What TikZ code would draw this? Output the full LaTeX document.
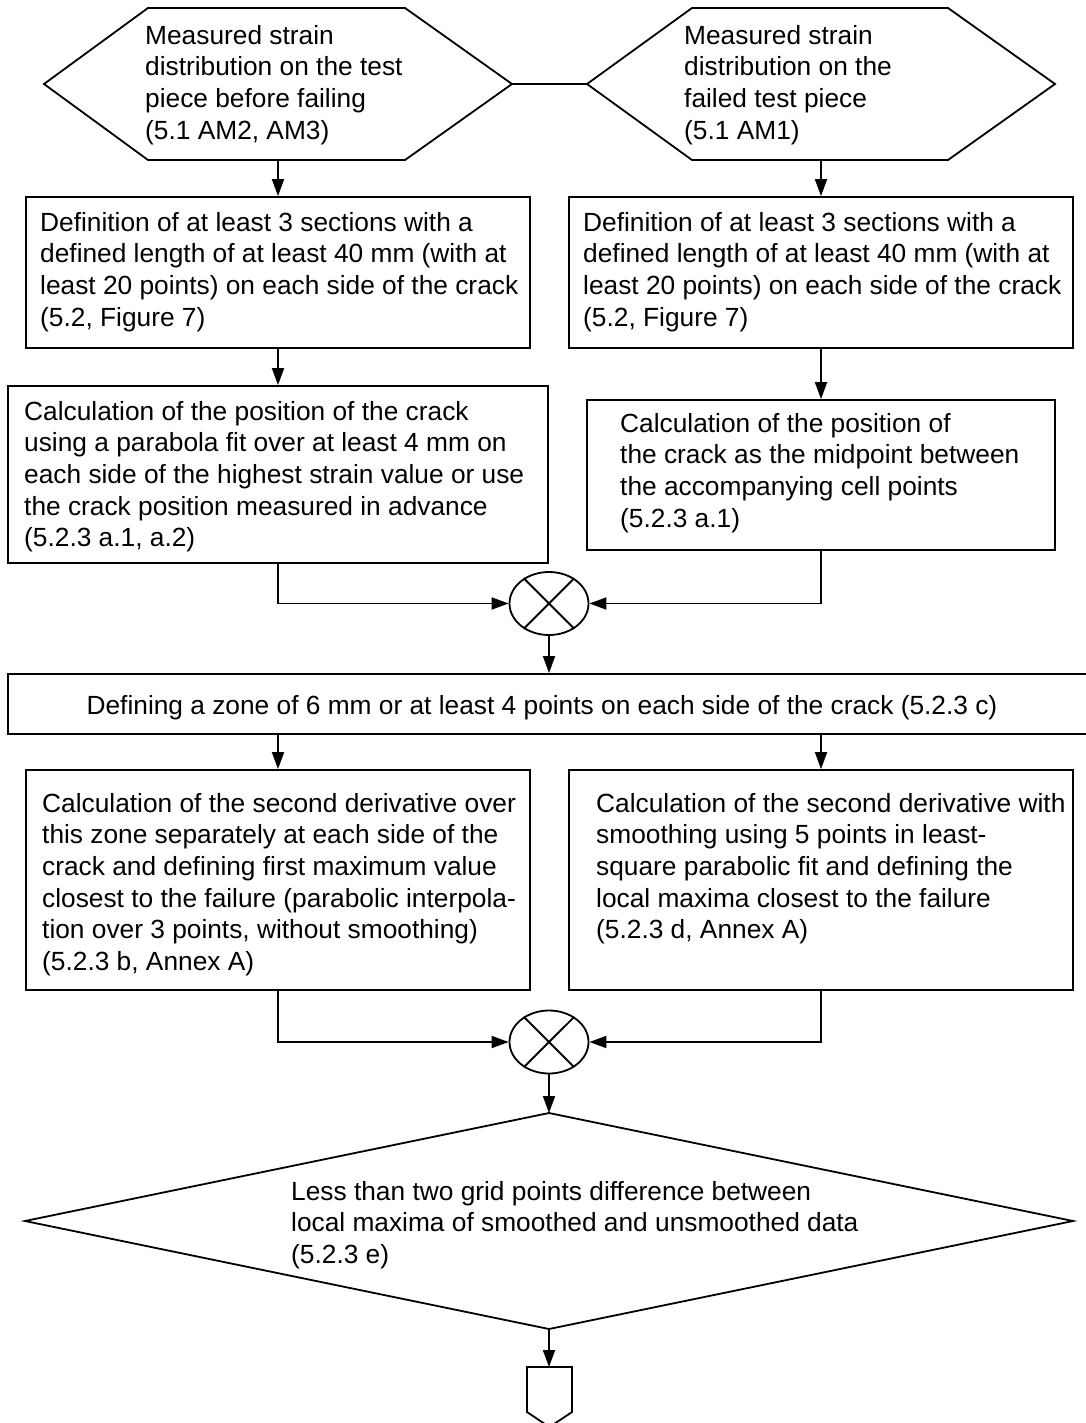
\documentclass[tikz,border=0pt]{standalone}
\usepackage{fontspec}
\setmainfont{Liberation Sans}
\usetikzlibrary{arrows.meta,shapes.geometric}
\newcommand\fsz{\fontsize{26.3}{31.6}\selectfont}
\tikzset{
  ln/.style={line width=1.8pt},
  box/.style={draw, ln, rectangle, inner sep=0pt},
  sumj/.style={draw, ln, ellipse, inner sep=0pt, minimum width=79pt, minimum height=63pt},
  txt/.style={anchor=north west, inner sep=0pt, align=left, font=\fsz},
  arr/.style={ln, -{Triangle[length=17pt,width=12pt]}},
}
\begin{document}
\begin{tikzpicture}[x=1pt,y=-1pt]
\useasboundingbox (0,0) rectangle (1085,1423);
% hexagons
\coordinate (h1l) at (44,84); \coordinate (h1r) at (512,84);
\coordinate (h1b) at (278,160);
\draw[ln] (h1l) -- (148,8) -- (405,8) -- (h1r) -- (405,160) -- (148,160) -- cycle;
\coordinate (h2l) at (587,84); \coordinate (h2r) at (1055,84);
\coordinate (h2b) at (821,160);
\draw[ln] (h2l) -- (692,8) -- (948,8) -- (h2r) -- (948,160) -- (692,160) -- cycle;
\draw[ln] (h1r) -- (h2l);
\node[txt] (th1) at (145,22) {\strut Measured strain\\distribution on the test\\piece before failing\\(5.1 AM2, AM3)};
\node[txt] (th2) at (684,22) {\strut Measured strain\\distribution on the\\failed test piece\\(5.1 AM1)};
% boxes row 1
\node[box, minimum width=504pt, minimum height=151pt] (a1) at (278,272.5) {};
\node[box, minimum width=504pt, minimum height=151pt] (b1) at (821,272.5) {};
\node[txt] (ta1) at (40,209) {\strut Definition of at least 3 sections with a\\defined length of at least 40 mm (with at\\least 20 points) on each side of the crack\\(5.2, Figure 7)};
\node[txt] (tb1) at (583,209) {\strut Definition of at least 3 sections with a\\defined length of at least 40 mm (with at\\least 20 points) on each side of the crack\\(5.2, Figure 7)};
% boxes row 2
\node[box, minimum width=540pt, minimum height=177pt] (a2) at (278,474.5) {};
\node[box, minimum width=468pt, minimum height=150pt] (b2) at (821,475) {};
\node[txt] (ta2) at (24,398) {\strut Calculation of the position of the crack\\using a parabola fit over at least 4 mm on\\each side of the highest strain value or use\\the crack position measured in advance\\(5.2.3 a.1, a.2)};
\node[txt] (tb2) at (620,410) {\strut Calculation of the position of\\the crack as the midpoint between\\the accompanying cell points\\(5.2.3 a.1)};
% junction 1
\node[sumj] (c1) at (549,603.5) {};
\draw[ln] (c1.45) -- (c1.225) (c1.135) -- (c1.315);
% wide box
\node[box, minimum width=1082pt, minimum height=60pt] (w) at (549,704) {};
\node[anchor=base, inner sep=0pt, font=\fsz] (tw) at (542,714) {Defining a zone of 6 mm or at least 4 points on each side of the crack (5.2.3 c)};
% boxes row 3
\node[box, minimum width=504pt, minimum height=220pt] (a3) at (278,880) {};
\node[box, minimum width=504pt, minimum height=220pt] (b3) at (821,880) {};
\node[txt] (ta3) at (42,790) {\strut Calculation of the second derivative over\\this zone separately at each side of the\\crack and defining first maximum value\\closest to the failure (parabolic interpola-\\tion over 3 points, without smoothing)\\(5.2.3 b, Annex A)};
\node[txt] (tb3) at (596,790) {\strut Calculation of the second derivative with\\smoothing using 5 points in least-\\square parabolic fit and defining the\\local maxima closest to the failure\\(5.2.3 d, Annex A)};
% junction 2
\node[sumj] (c2) at (549,1042) {};
\draw[ln] (c2.45) -- (c2.225) (c2.135) -- (c2.315);
% decision
\coordinate (dt) at (549,1113); \coordinate (db) at (549,1329);
\draw[ln] (dt) -- (1073,1221) -- (db) -- (25,1221) -- cycle;
\node[txt] (td) at (291,1178) {\strut Less than two grid points difference between\\local maxima of smoothed and unsmoothed data\\(5.2.3 e)};
% off-page connector
\coordinate (ot) at (549,1367);
\draw[ln] (527,1367) -- (572,1367) -- (572,1412) -- (549.5,1427) -- (527,1412) -- cycle;
% connectors
\draw[arr] (h1b) -- (a1.north);
\draw[arr] (h2b) -- (b1.north);
\draw[arr] (a1.south) -- (a2.north);
\draw[arr] (b1.south) -- (b2.north);
\draw[arr] (a2.south) |- (c1.west);
\draw[arr] (b2.south) |- (c1.east);
\draw[arr] (c1.south) -- (w.north);
\draw[arr] (a3.north |- w.south) -- (a3.north);
\draw[arr] (b3.north |- w.south) -- (b3.north);
\draw[arr] (a3.south) |- (c2.west);
\draw[arr] (b3.south) |- (c2.east);
\draw[arr] (c2.south) -- (dt);
\draw[arr] (db) -- (ot);
\end{tikzpicture}
\end{document}
